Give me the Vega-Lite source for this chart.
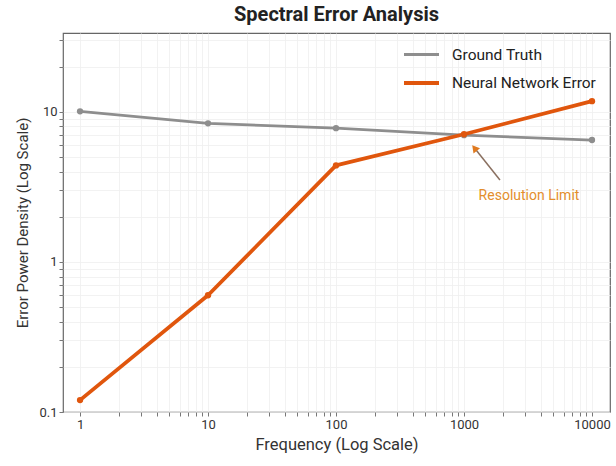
{
  "$schema": "https://vega.github.io/schema/vega-lite/v6.json",
  "width": 547,
  "height": 379,
  "autosize": {"type": "none"},
  "padding": {"left": 63, "top": 33, "right": 6, "bottom": 54},
  "background": "white",
  "config": {
    "font": "Roboto",
    "view": {"stroke": "#666666", "strokeWidth": 1.2},
    "axis": {
      "labelFont": "Roboto",
      "titleFont": "Roboto",
      "labelFontSize": 13,
      "titleFontWeight": "normal",
      "labelColor": "#333333",
      "titleColor": "#333333",
      "domain": false,
      "tickColor": "#777777",
      "tickSize": 4,
      "gridColor": "#efefef",
      "gridWidth": 0.8
    }
  },
  "title": {
    "text": "Spectral Error Analysis",
    "fontSize": 20,
    "fontWeight": "bold",
    "font": "Roboto",
    "color": "#222222",
    "offset": 8
  },
  "datasets": {
    "spectrum": [
      {"frequency": 1, "power": 10.1, "series": "Ground Truth"},
      {"frequency": 10, "power": 8.4, "series": "Ground Truth"},
      {"frequency": 100, "power": 7.8, "series": "Ground Truth"},
      {"frequency": 1000, "power": 7.0, "series": "Ground Truth"},
      {"frequency": 10000, "power": 6.5, "series": "Ground Truth"},
      {"frequency": 1, "power": 0.12, "series": "Neural Network Error"},
      {"frequency": 10, "power": 0.6, "series": "Neural Network Error"},
      {"frequency": 100, "power": 4.4, "series": "Neural Network Error"},
      {"frequency": 1000, "power": 7.1, "series": "Neural Network Error"},
      {"frequency": 10000, "power": 11.8, "series": "Neural Network Error"}
    ],
    "arrow": [
      {"x0": 1910, "y0": 3.52, "x1": 1208, "y1": 5.75}
    ],
    "note": [
      {"frequency": 3220, "power": 2.75, "label": "Resolution Limit"}
    ]
  },
  "layer": [
    {
      "data": {"name": "spectrum"},
      "mark": {"type": "line", "strokeCap": "round", "strokeJoin": "round"},
      "encoding": {
        "x": {
          "field": "frequency",
          "type": "quantitative",
          "scale": {"type": "log", "domain": [0.736, 13830], "nice": false},
          "axis": {
            "title": "Frequency (Log Scale)",
            "titleFontSize": 16.5,
            "values": [1, 2, 3, 4, 5, 6, 7, 8, 9, 10, 20, 30, 40, 50, 60, 70, 80, 90, 100, 200, 300, 400, 500, 600, 700, 800, 900, 1000, 2000, 3000, 4000, 5000, 6000, 7000, 8000, 9000, 10000],
            "labelExpr": "indexof([1,10,100,1000,10000], datum.value) >= 0 ? datum.label : ''",
            "format": "d",
            "titlePadding": 5
          }
        },
        "y": {
          "field": "power",
          "type": "quantitative",
          "scale": {"type": "log", "domain": [0.1, 33.6], "nice": false},
          "axis": {
            "title": "Error Power Density (Log Scale)",
            "titleFontSize": 15,
            "values": [0.1, 0.2, 0.3, 0.4, 0.5, 0.6, 0.7, 0.8, 0.9, 1, 2, 3, 4, 5, 6, 7, 8, 9, 10, 20, 30],
            "labelExpr": "indexof([0.1,1,10], datum.value) >= 0 ? datum.label : ''",
            "format": "~g",
            "titlePadding": 8
          }
        },
        "color": {
          "field": "series",
          "type": "nominal",
          "scale": {"domain": ["Ground Truth", "Neural Network Error"], "range": ["#8e8e8e", "#e0560d"]},
          "legend": {
            "title": null,
            "orient": "none",
            "legendX": 339,
            "legendY": 2.5,
            "labelFontSize": 15.5,
            "labelFont": "Roboto",
            "labelColor": "#222222",
            "labelOffset": 11,
            "symbolType": "M-1,0H1",
            "symbolSize": 1225,
            "symbolStrokeWidth": 3.2,
            "rowPadding": -16,
            "padding": 0
          }
        },
        "strokeWidth": {
          "field": "series",
          "type": "nominal",
          "scale": {"domain": ["Ground Truth", "Neural Network Error"], "range": [2.8, 3.8]},
          "legend": null
        }
      }
    },
    {
      "data": {"name": "spectrum"},
      "mark": {"type": "point", "filled": true, "size": 40, "opacity": 1},
      "encoding": {
        "x": {"field": "frequency", "type": "quantitative"},
        "y": {"field": "power", "type": "quantitative"},
        "color": {"field": "series", "type": "nominal", "legend": null}
      }
    },
    {
      "data": {"name": "arrow"},
      "mark": {"type": "rule", "color": "#8a7060", "strokeWidth": 1.5},
      "encoding": {
        "x": {"field": "x0", "type": "quantitative"},
        "y": {"field": "y0", "type": "quantitative"},
        "x2": {"field": "x1"},
        "y2": {"field": "y1"}
      }
    },
    {
      "data": {"name": "arrow"},
      "mark": {"type": "point", "shape": "triangle-up", "filled": true, "size": 70, "angle": 321, "color": "#e07a1f", "opacity": 1},
      "encoding": {
        "x": {"field": "x1", "type": "quantitative"},
        "y": {"field": "y1", "type": "quantitative"}
      }
    },
    {
      "data": {"name": "note"},
      "mark": {"type": "text", "color": "#e38e2c", "fontSize": 14, "font": "Roboto", "align": "center", "baseline": "middle"},
      "encoding": {
        "x": {"field": "frequency", "type": "quantitative"},
        "y": {"field": "power", "type": "quantitative"},
        "text": {"field": "label"}
      }
    }
  ]
}
